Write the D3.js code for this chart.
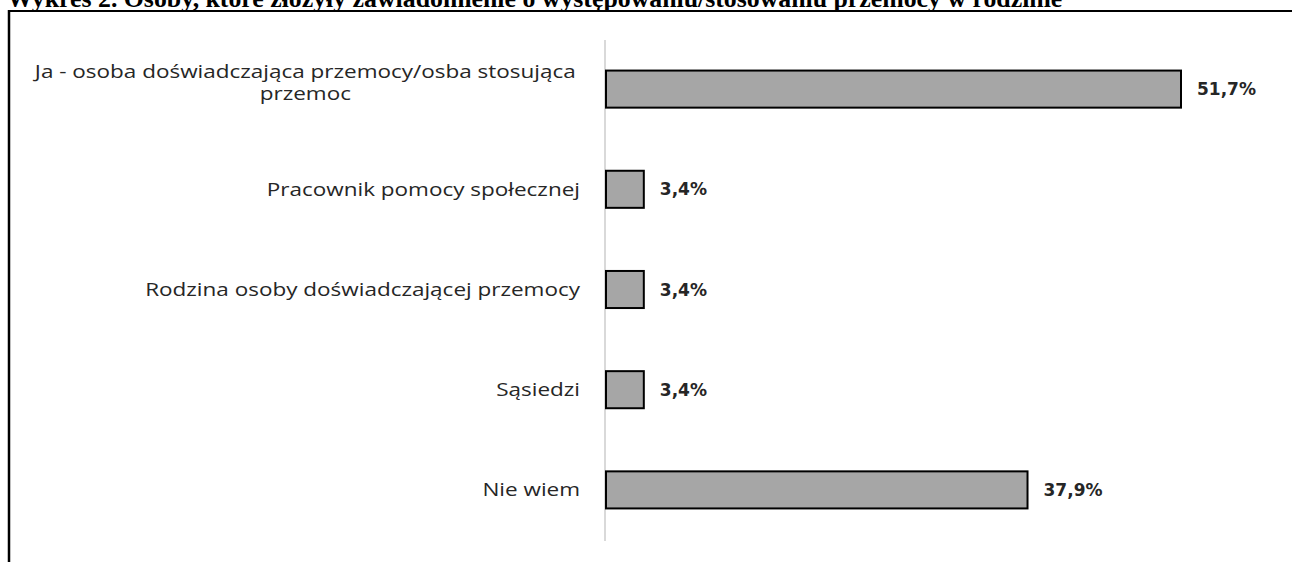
<!DOCTYPE html>
<html>
<head>
<meta charset="utf-8">
<script src="https://cdn.jsdelivr.net/npm/d3@7"></script>
<style>
  html, body { margin: 0; padding: 0; background: #fff; }
  svg { display: block; }
</style>
</head>
<body>
<svg id="chart" width="1292" height="562"></svg>
<script>
const titleText = "Wykres 2. Osoby, które złożyły zawiadomienie o występowaniu/stosowaniu przemocy w rodzinie";
const categories = [
  "Ja - osoba doświadczająca przemocy/osba stosująca\nprzemoc",
  "Pracownik pomocy społecznej",
  "Rodzina osoby doświadczającej przemocy",
  "Sąsiedzi",
  "Nie wiem"
];
const values = [51.7, 3.4, 3.4, 3.4, 37.9];
const valueLabels = ["51,7%", "3,4%", "3,4%", "3,4%", "37,9%"];

const svg = d3.select("#chart");

// Title (clipped at top as in the source)
svg.append("text")
  .attr("x", 7).attr("y", 7)
  .attr("font-family", "Liberation Serif, Times New Roman, serif")
  .attr("font-weight", "bold")
  .attr("font-size", 25.8)
  .attr("fill", "#000")
  .text(titleText);

// Frame
svg.append("line").attr("x1", 8).attr("x2", 1292).attr("y1", 11).attr("y2", 11)
  .attr("stroke", "#000").attr("stroke-width", 2);
svg.append("line").attr("x1", 9).attr("x2", 9).attr("y1", 10).attr("y2", 562)
  .attr("stroke", "#000").attr("stroke-width", 2.5);

const x0 = 606;
const x = d3.scaleLinear().domain([0, 51.7]).range([x0, 1181]);
const y = d3.scaleBand().domain(categories).range([39, 540]).paddingInner(0.63).paddingOuter(0.315);

// axis line
svg.append("line").attr("x1", 605).attr("x2", 605).attr("y1", 40).attr("y2", 541)
  .attr("stroke", "#d9d9d9").attr("stroke-width", 2);

const g = svg.append("g");
g.selectAll("rect.bar").data(categories).join("rect")
  .attr("class", "bar")
  .attr("x", x(0))
  .attr("y", d => y(d))
  .attr("width", (d, i) => x(values[i]) - x(0))
  .attr("height", y.bandwidth())
  .attr("fill", "#a6a6a6")
  .attr("stroke", "#000")
  .attr("stroke-width", 2);

g.selectAll("text.val").data(categories).join("text")
  .attr("class", "val")
  .attr("x", (d, i) => x(values[i]) + 16)
  .attr("y", d => y(d) + y.bandwidth() / 2)
  .attr("dy", "0.36em")
  .attr("font-family", "DejaVu Sans, Verdana, sans-serif")
  .attr("font-weight", "bold")
  .attr("font-size", 17)
  .attr("fill", "#262626")
  .text((d, i) => valueLabels[i]);

const sx = 1.25;
const labels = g.selectAll("text.cat").data(categories).join("text")
  .attr("class", "cat")
  .attr("font-family", "Open Sans, sans-serif")
  .attr("font-size", 18)
  .attr("fill", "#262626");

labels.each(function(d) {
  const lines = d.split("\n");
  const t = d3.select(this);
  const cy = y(d) + y.bandwidth() / 2;
  if (lines.length === 1) {
    t.attr("text-anchor", "end")
      .attr("transform", `translate(580,${cy}) scale(${sx},1)`)
      .attr("dy", "0.36em").text(d);
  } else {
    t.attr("text-anchor", "middle");
    const tmp = t.append("tspan").text(lines[0]);
    const w = tmp.node().getComputedTextLength() * sx;
    tmp.remove();
    const cx = 576 - w / 2;
    t.attr("transform", `translate(${cx},${cy}) scale(${sx},1)`);
    const base = [-11, 11];
    lines.forEach((ln, k) => {
      t.append("tspan").attr("x", 0).attr("y", base[k]).text(ln);
    });
  }
});
</script>
</body>
</html>
